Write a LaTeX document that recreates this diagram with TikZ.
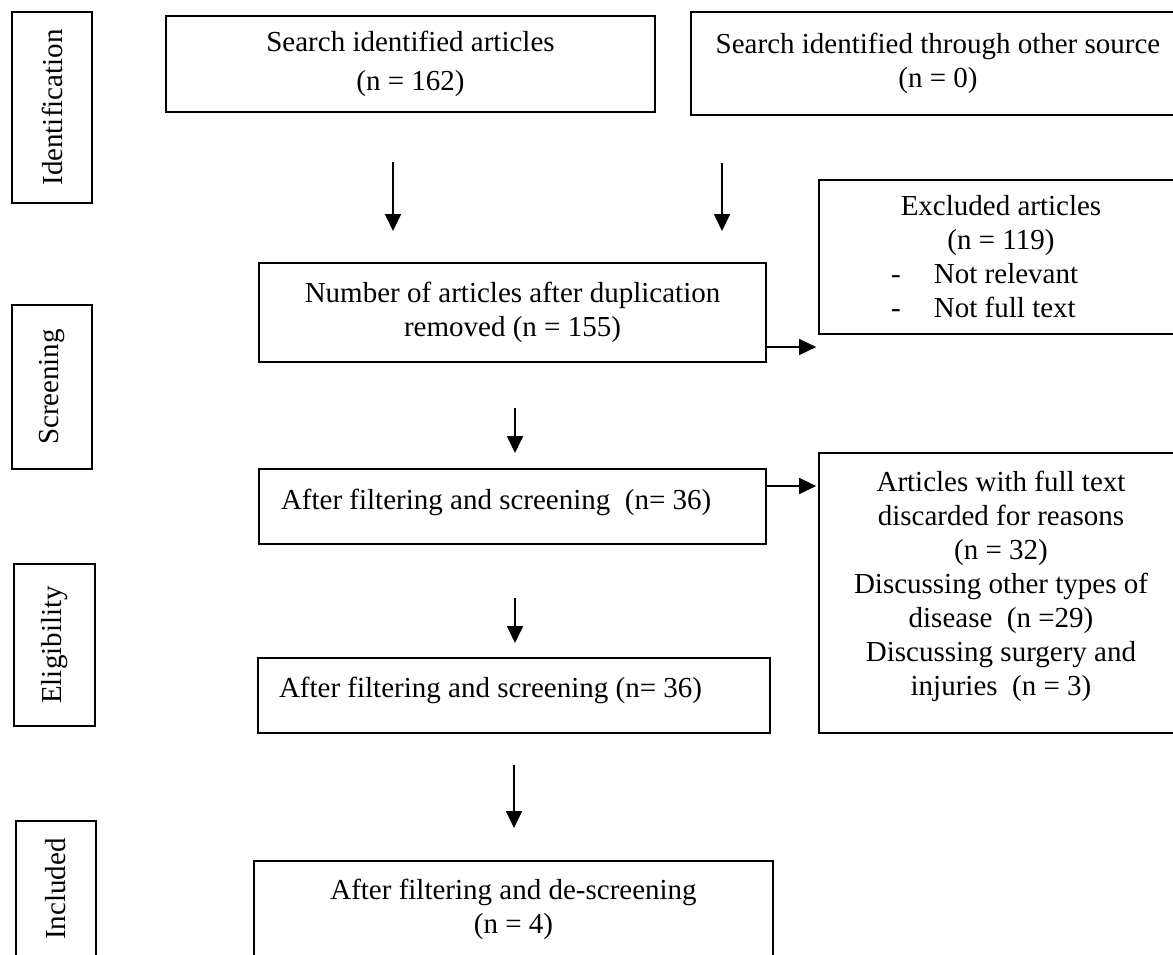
\documentclass[tikz,border=0pt]{standalone}
\usepackage{fontspec}
\setmainfont{Liberation Serif}
\usetikzlibrary{arrows.meta}
\begin{document}
\begin{tikzpicture}[x=1pt,y=-1pt,
  box/.style={draw,line width=1.7pt,rectangle,inner sep=0pt,align=center,font=\fontsize{29}{34}\selectfont},
  side/.style={box,rotate=90},
  arr/.style={line width=1.7pt,-{Triangle[length=17pt,width=16pt]}}]
\useasboundingbox (0,0) rectangle (1173,954);
\fill[white] (0,0) rectangle (1173,954);
\clip (0,0) rectangle (1173,954);

% phase labels
\node[side,minimum width=191pt,minimum height=80.5pt] (ident) at (52,107.5) {Identification};
\node[side,minimum width=164pt,minimum height=80.5pt] (scr) at (52,387) {Screening};
\node[side,minimum width=162pt,minimum height=81pt] (elig) at (54.5,645) {Eligibility};
\node[side,minimum width=136pt,minimum height=80pt] (incl) at (56,889) {Included};

% boxes
\node[box,minimum width=489pt,minimum height=96pt,font=\fontsize{29}{39}\selectfont] (b1) at (410.5,64) {Search identified articles\\(n = 162)};
\node[box,minimum width=494pt,minimum height=103pt] (b2) at (938,63.5) {Search identified through other source\\(n = 0)};
\node[box,minimum width=364pt,minimum height=154pt] (excl) at (1001,257) {Excluded articles\\(n = 119)\\\makebox[220pt][l]{\makebox[43pt][l]{-}Not relevant}\\\makebox[220pt][l]{\makebox[43pt][l]{-}Not full text}};
\node[box,minimum width=507pt,minimum height=99pt] (b3) at (512.5,312.5) {Number of articles after duplication\\removed (n = 155)};
\node[box,minimum width=507pt,minimum height=75pt] (b4) at (512.5,506.5) {\makebox[463pt][l]{After filtering and screening\ \ (n= 36)}\rule[-15pt]{0pt}{15pt}};
\node[box,minimum width=364pt,minimum height=280pt] (disc) at (1001,593) {Articles with full text\\discarded for reasons\\(n = 32)\\Discussing other types of\\disease\ \ (n =29)\\Discussing surgery and\\injuries\ \ (n = 3)\rule[-20pt]{0pt}{20pt}};
\node[box,minimum width=512pt,minimum height=75pt] (b5) at (514,695.5) {\makebox[470pt][l]{After filtering and screening (n= 36)}\rule[-17pt]{0pt}{17pt}};
\node[box,minimum width=519pt,minimum height=96pt] (b6) at (513.5,909) {After filtering and de-screening\\(n = 4)};

% free-standing arrows
\coordinate (a1s) at (393,162); \coordinate (a1e) at (393,231);
\coordinate (a2s) at (722,163); \coordinate (a2e) at (722,231);
\coordinate (a3s) at (515,408); \coordinate (a3e) at (515,453);
\coordinate (a4s) at (515,598); \coordinate (a4e) at (515,643);
\coordinate (a5s) at (514,765); \coordinate (a5e) at (514,828);
\draw[arr] (a1s) -- (a1e);
\draw[arr] (a2s) -- (a2e);
\draw[arr] (a3s) -- (a3e);
\draw[arr] (a4s) -- (a4e);
\draw[arr] (a5s) -- (a5e);

% side arrows
\draw[arr,shorten >=2pt] ([yshift=-34.5pt]b3.east) -- ([yshift=-34.5pt]b3.east -| excl.west);
\draw[arr,shorten >=2pt] ([yshift=20.5pt]b4.east) -- ([yshift=20.5pt]b4.east -| disc.west);
\end{tikzpicture}
\end{document}
